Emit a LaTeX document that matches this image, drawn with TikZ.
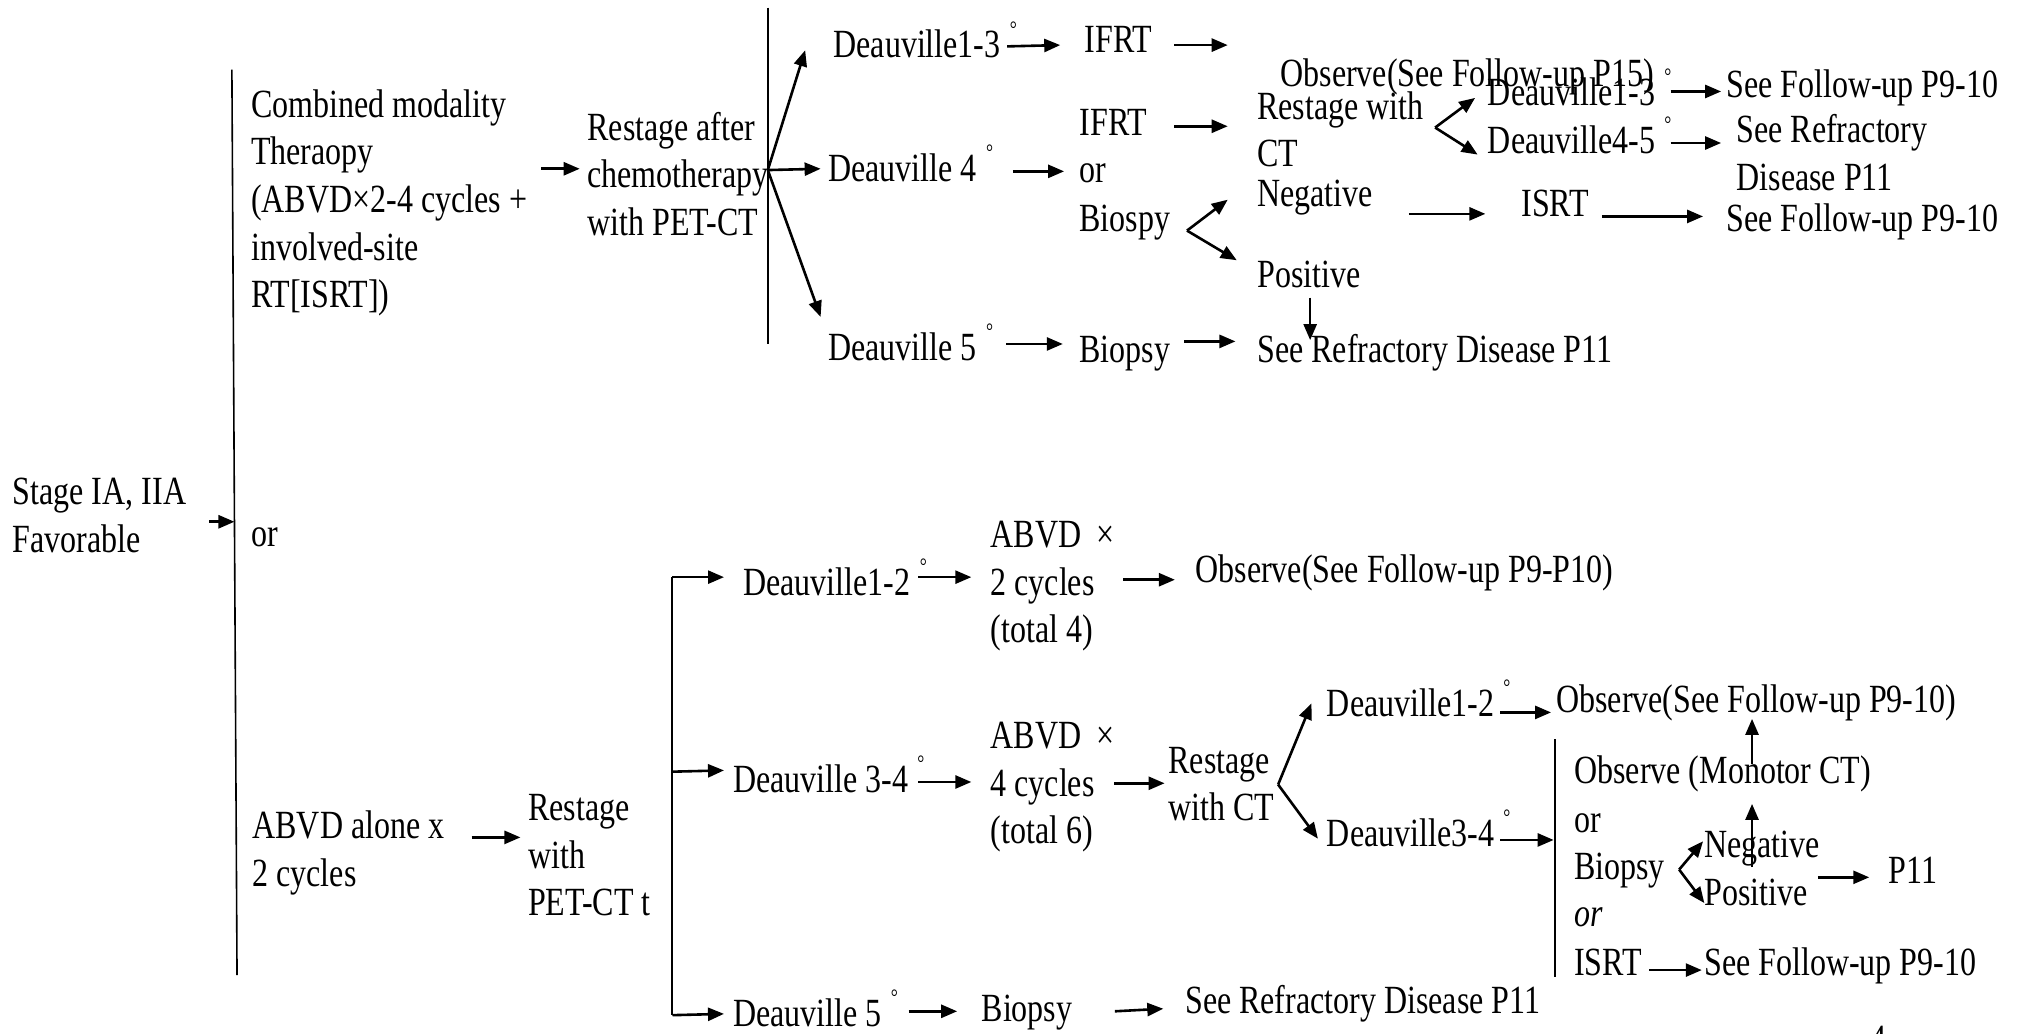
\documentclass[tikz,border=0pt]{standalone}
\usepackage{fontspec}
\setmainfont{Liberation Serif}[FakeStretch=0.8]
\usetikzlibrary{arrows.meta,calc}
\tikzset{
  txt/.style={inner sep=0pt, outer sep=0pt, font=\fontsize{20}{23.8}\selectfont},
  blk/.style={txt, align=left},
  arr/.style={line width=1.3pt, -{Triangle[length=8pt,width=6.5pt]}},
  bar/.style={line width=1pt},
  deg/.style={inner sep=0pt, anchor=base, font=\fontsize{11}{11}\selectfont},
}
\begin{document}
\begin{tikzpicture}[x=0.644pt,y=-0.644pt]
\useasboundingbox (0,0) rectangle (1568,802);
\fill[white] (0,0) rectangle (1568,802);

% ---------- left column ----------
\node[blk, anchor=west] (stage) at (10,400) {Stage IA, IIA\\Favorable};
\coordinate (mbTop) at (180,54);
\coordinate (mbBot) at (184,757);
\coordinate (mbIn) at (182,405);
\draw[bar, line width=0.8pt] (mbTop) -- (mbBot);
\draw[arr] ($(stage.east)+(18,5)$) -- (mbIn);

\node[blk, anchor=west] (cmt) at (195,157.5) {Combined modality\\Theraopy\\(ABVD×2-4 cycles +\\involved-site\\RT[ISRT])};
\node[txt, anchor=base west] (orTop) at (195,424) {or};
\node[blk, anchor=west] (alone) at (196,662) {ABVD alone x\\2 cycles};

% ---------- combined modality branch ----------
\node[blk, anchor=west] (rpet) at (456,135) {Restage after\\chemotherapy\\with PET-CT};
\draw[arr] ($(cmt.east)+(11,-26.5)$) -- ($(rpet.west)+(-6,-4)$);
\coordinate (b2top) at (596,6);
\coordinate (b2bot) at (596,267);
\coordinate (hub) at (596,132);
\draw[bar] (b2top) -- (b2bot);

\node[txt, anchor=base west] (d13) at (647,45) {Deauville1-3};
\node[txt, anchor=base west] (ifrtA) at (842,41) {IFRT};
\node[txt, anchor=base west] (obs15) at (994,67) {Observe(See Follow-up P15)};
\coordinate (ifrtEnd) at (953,35);
\node[txt, anchor=base west] (d4) at (643,141) {Deauville 4};
\node[txt, anchor=base west] (ifrtB) at (838,105) {IFRT};
\node[txt, anchor=base west] (orB) at (838,142) {or};
\node[txt, anchor=base west] (biosp) at (838,180) {Biospy};
\node[blk, anchor=west] (rct) at (976,100.5) {Restage with\\CT};
\node[txt, anchor=base west] (d13b) at (1155,82) {Deauville1-3};
\node[txt, anchor=base west] (d45) at (1155,119) {Deauville4-5};
\node[txt, anchor=base west] (fuA) at (1340,76) {See Follow-up P9-10};
\node[blk, anchor=west] (srdA) at (1348,118.5) {See Refractory\\Disease P11};
\node[txt, anchor=base west] (negA) at (976,160) {Negative};
\node[txt, anchor=base west] (isrtA) at (1181,168) {ISRT};
\node[txt, anchor=base west] (fuB) at (1340,180) {See Follow-up P9-10};
\node[txt, anchor=base west] (posA) at (976,223) {Positive};
\node[txt, anchor=base west] (d5) at (643,280) {Deauville 5};
\node[txt, anchor=base west] (biopA) at (838,281) {Biopsy};
\node[txt, anchor=base west] (srdB) at (976,281) {See Refractory Disease P11};

\draw[arr] (hub) -- ($(d13.base west)+(-22,-6)$);
\draw[arr] (hub) -- ($(d4.base west)+(-6,-10)$);
\draw[arr] (hub) -- ($(d5.base west)+(-6,-34)$);
\draw[arr] ($(d13.base east)+(5,-9)$) -- ($(ifrtA.base west)+(-19,-6)$);
\draw[arr] ($(ifrtA.base east)+(17,-6)$) -- (ifrtEnd);
\draw[arr] ($(d4.base east)+(28,-8)$) -- ($(orB.base west)+(-12,-9)$);
\draw[arr] ($(ifrtB.base east)+(21,-7)$) -- ($(rct.west)+(-23,-2.5)$);
\coordinate (vA) at ($(biosp.base east)+(13,-1)$);
\draw[arr] (vA) -- ($(negA.base west)+(-23,-5)$);
\draw[arr] (vA) -- ($(posA.base west)+(-16,-21)$);
\coordinate (vB) at ($(rct.east)+(9,-1.5)$);
\draw[arr] (vB) -- ($(d13b.base west)+(-10,-6)$);
\draw[arr] (vB) -- ($(d45.base west)+(-8,1)$);
\draw[arr] ($(d13b.base east)+(12,-11)$) -- ($(fuA.base west)+(-4,-5)$);
\draw[arr] ($(d45.base east)+(12,-8)$) -- ($(srdA.west)+(-12,-7.5)$);
\draw[arr] ($(negA.base east)+(28,6)$) -- ($(isrtA.base west)+(-28,-2)$);
\draw[arr] ($(isrtA.base east)+(10,0)$) -- ($(fuB.base west)+(-18,-12)$);
\draw[arr] ($(posA.base west)+(41,8)$) -- ($(srdB.base west)+(41,-17)$);
\draw[arr] ($(d5.base east)+(23,-13)$) -- ($(biopA.base west)+(-13,-14)$);
\draw[arr] ($(biopA.base east)+(11,-16)$) -- ($(srdB.base west)+(-17,-16)$);

% ---------- ABVD alone branch ----------
\node[blk, anchor=west] (rpc) at (410,664) {Restage\\with\\PET-CT t};
\draw[arr] ($(alone.east)+(21,-12)$) -- ($(rpc.west)+(-6,-14)$);
\coordinate (b3top) at (522,448);
\coordinate (b3mid) at (522,599);
\coordinate (b3bot) at (522,788);
\draw[bar] (b3top) -- (b3bot);

\node[txt, anchor=base west] (d12) at (577,462) {Deauville1-2};
\node[blk, anchor=west] (abvdA) at (769,455) {ABVD~\,×\\2 cycles\\(total 4)};
\node[txt, anchor=base west] (obsA) at (928,452) {Observe(See Follow-up P9-P10)};
\node[txt, anchor=base west] (d34) at (569,615) {Deauville 3-4};
\node[blk, anchor=west] (abvdB) at (769,611) {ABVD~\,×\\4 cycles\\(total 6)};
\node[blk, anchor=west] (rwct) at (907,608.5) {Restage\\with CT};
\node[txt, anchor=base west] (d12b) at (1030,556) {Deauville1-2};
\node[txt, anchor=base west] (obsB) at (1208,553) {Observe(See Follow-up P9-10)};
\node[txt, anchor=base west] (d34b) at (1030,657) {Deauville3-4};
\coordinate (b4top) at (1207,574);
\coordinate (b4bot) at (1207,758);
\coordinate (b4in) at (1206,652);
\draw[bar] (b4top) -- (b4bot);
\node[txt, anchor=base west] (obsM) at (1222,608) {Observe (Monotor CT)};
\node[txt, anchor=base west] (orC) at (1222,646) {or};
\node[txt, anchor=base west] (biopB) at (1222,683) {Biopsy};
\node[txt, anchor=base west] (negB) at (1323,666) {Negative};
\node[txt, anchor=base west] (posB) at (1323,703) {Positive};
\node[txt, anchor=base west] (p11) at (1466,686) {P11};
\node[txt, anchor=base west] (orD) at (1222,719) {\itshape or};
\node[txt, anchor=base west] (isrtB) at (1222,757) {ISRT};
\node[txt, anchor=base west] (fuC) at (1323,757) {See Follow-up P9-10};
\node[txt, anchor=base west] (d5b) at (569,797) {Deauville 5};
\node[txt, anchor=base west] (biopC) at (762,793) {Biopsy};
\node[txt, anchor=base west] (srdC) at (920,787) {See Refractory Disease P11};
\node[txt, anchor=base west] (pgnum) at (1452,817) {4};

\draw[arr] (b3top) -- ($(d12.base west)+(-15,-14)$);
\draw[arr] (b3mid) -- ($(d34.base west)+(-7,-17)$);
\draw[arr] (b3bot) -- ($(d5b.base west)+(-7,-10)$);
\draw[arr] ($(d12.base east)+(6,-14)$) -- ($(abvdA.west)+(-15,-7)$);
\draw[arr] ($(abvdA.east)+(7,-5)$) -- ($(obsA.base west)+(-16,-2)$);
\draw[arr] ($(d34.base east)+(8,-8)$) -- ($(abvdB.west)+(-15,-4)$);
\draw[arr] ($(abvdB.east)+(0,-3)$) -- ($(rwct.west)+(-3,-0.5)$);
\coordinate (vC) at ($(rwct.east)+(3,0.5)$);
\draw[arr] (vC) -- ($(d12b.base west)+(-12,-10)$);
\draw[arr] (vC) -- ($(d34b.base west)+(-7,-6)$);
\draw[arr] ($(d12b.base east)+(5,-3)$) -- ($(obsB.base west)+(-4,0)$);
\draw[arr] ($(d34b.base east)+(5,-5)$) -- (b4in);
\draw[arr] ($(obsM.base west)+(138,-15)$) -- ($(obsB.base west)+(152,5)$);
\draw[arr] ($(negB.base west)+(37,7)$) -- ($(obsM.base west)+(138,16)$);
\coordinate (vD) at ($(biopB.base east)+(11,-8)$);
\draw[arr] (vD) -- ($(negB.base west)+(-1,-13)$);
\draw[arr] (vD) -- ($(posB.base west)+(0,-2)$);
\draw[arr] ($(posB.base east)+(8,-22)$) -- ($(p11.base west)+(-15,-5)$);
\draw[arr] ($(isrtB.base east)+(6,-4)$) -- ($(fuC.base west)+(-2,-4)$);
\draw[arr] ($(d5b.base east)+(21,-12)$) -- ($(biopC.base west)+(-19,-8)$);
\draw[arr] ($(biopC.base east)+(33,-8)$) -- ($(srdC.base west)+(-17,-4)$);

% ---------- degree marks after each Deauville score ----------
\foreach \n in {d13,d4,d5,d13b,d45,d12,d34,d12b,d34b,d5b}
  \node[deg] (deg-\n) at ($(\n.base east)+(10,-17)$) {°};
\end{tikzpicture}
\end{document}
